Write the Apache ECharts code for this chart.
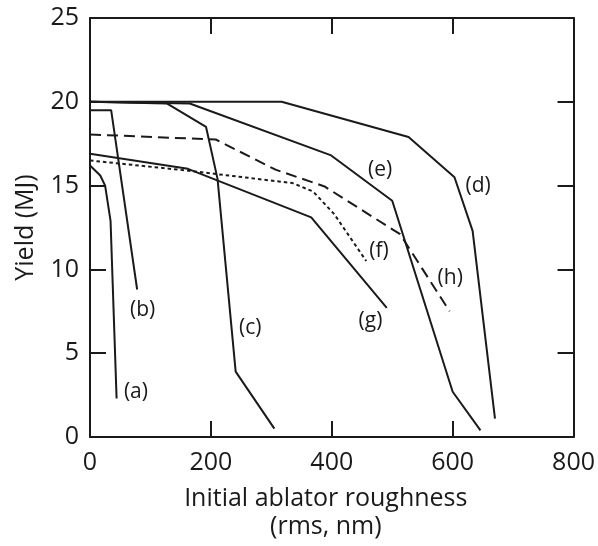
<!DOCTYPE html>
<html>
<head>
<meta charset="utf-8">
<script src="https://cdn.jsdelivr.net/npm/echarts@6/dist/echarts.min.js"></script>
<style>
  html, body { margin: 0; padding: 0; background: #fff; }
  #chart { width: 598px; height: 546px; }
</style>
</head>
<body>
<div id="chart"></div>
<script>
// curves: [roughness (nm), yield (MJ)]
const curveA = [[0, 16.2], [17, 15.6], [25, 15.0], [34, 12.9], [44, 2.3]];
const curveB = [[0, 19.5], [35, 19.5], [78, 8.8]];
const curveC = [[0, 20], [127, 19.9], [192, 18.5], [211, 15.4], [241, 3.9], [305, 0.5]];
const curveD = [[0, 20], [317, 20], [527, 17.9], [603, 15.5], [633, 12.3], [670, 1.1]];
const curveE = [[0, 20], [165, 19.9], [399, 16.8], [500, 14.1], [600, 2.7], [646, 0.4]];
const curveF = [[0, 16.5], [160, 15.9], [335, 15.15], [369, 14.65], [404, 13.3], [457, 10.5]];
const curveG = [[0, 16.9], [162, 16.0], [366, 13.1], [491, 7.7]];
const curveH = [[0, 18.05], [208, 17.75], [307, 15.95], [388, 14.95], [513, 12.1], [595, 7.5]];

// where each curve's letter sits
const curveNames = ['(a)', '(b)', '(c)', '(d)', '(e)', '(f)', '(g)', '(h)'];
const labelPos = [[76, 2.7], [87, 7.6], [265, 6.5], [642, 15.0], [480, 15.95], [478, 11.1], [464, 6.9], [596, 9.5]];

const xTicks = [0, 200, 400, 600, 800];
const yTicks = [0, 5, 10, 15, 20, 25];

const ink = '#1a1a1a';
const font = '"Open Sans", "DejaVu Sans", sans-serif';

const chart = echarts.init(document.getElementById('chart'));

function lineSeries(data, type) {
  return {
    type: 'line',
    data: data,
    symbol: 'none',
    silent: true,
    animation: false,
    lineStyle: { color: ink, width: 2, type: type }
  };
}

const frameAxis = {
  axisLine: { show: true, onZero: false, lineStyle: { color: ink, width: 2 } },
  axisTick: { show: true, inside: true, length: 16, lineStyle: { color: ink, width: 2 } },
  splitLine: { show: false }
};

const option = {
  backgroundColor: '#fff',
  animation: false,
  grid: { left: 90, right: 17, top: 18, bottom: 108 },
  xAxis: [
    Object.assign({}, frameAxis, {
      type: 'value', min: 0, max: 800, interval: 200,
      name: 'Initial ablator roughness\n(rms, nm)',
      nameLocation: 'middle',
      nameGap: 48,
      nameTextStyle: { fontFamily: font, fontSize: 25, color: ink, lineHeight: 28, padding: [0, 12, 0, 0] },
      axisLabel: {
        margin: 13, fontFamily: font, fontSize: 25, color: ink,
        formatter: v => xTicks.includes(v) ? String(v) : ''
      }
    }),
    Object.assign({}, frameAxis, {
      type: 'value', min: 0, max: 800, interval: 200, position: 'top',
      axisLabel: { show: false }
    })
  ],
  yAxis: [
    Object.assign({}, frameAxis, {
      type: 'value', min: 0, max: 25, interval: 5,
      name: 'Yield (MJ)',
      nameLocation: 'middle',
      nameGap: 52,
      nameTextStyle: { fontFamily: font, fontSize: 25, color: ink },
      axisLabel: {
        margin: 11, fontFamily: font, fontSize: 25, color: ink,
        formatter: v => yTicks.includes(v) ? String(v) : ''
      }
    }),
    Object.assign({}, frameAxis, {
      type: 'value', min: 0, max: 25, interval: 5, position: 'right',
      axisLabel: { show: false }
    })
  ],
  series: [
    lineSeries(curveA, 'solid'),
    lineSeries(curveB, 'solid'),
    lineSeries(curveC, 'solid'),
    lineSeries(curveD, 'solid'),
    lineSeries(curveE, 'solid'),
    lineSeries(curveF, [3.5, 3]),
    lineSeries(curveG, 'solid'),
    lineSeries(curveH, [11, 6]),
    {
      type: 'scatter',
      symbolSize: 0,
      silent: true,
      itemStyle: { opacity: 1, color: ink },
      data: labelPos.map((p, i) => ({ value: p, name: curveNames[i] })),
      label: {
        show: true,
        position: 'inside',
        formatter: p => p.name,
        fontFamily: font,
        fontSize: 21,
        color: ink,
        opacity: 1
      }
    }
  ]
};

chart.setOption(option);
</script>
</body>
</html>
